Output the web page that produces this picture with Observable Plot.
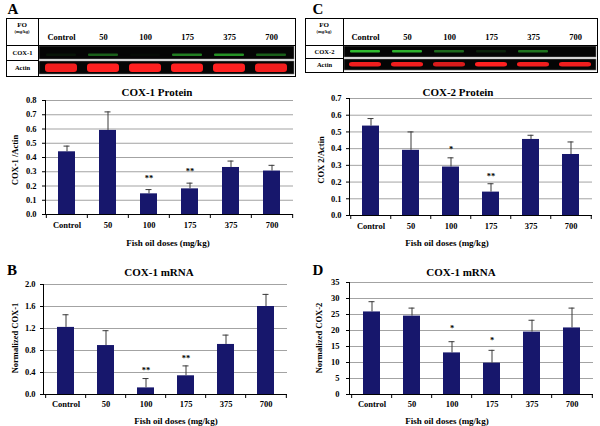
<!DOCTYPE html>
<html><head><meta charset="utf-8">
<script src="https://cdn.jsdelivr.net/npm/d3@7"></script>
<script src="https://cdn.jsdelivr.net/npm/@observablehq/plot@0.6"></script>
<style>
body{margin:0;background:#fff;}
#fig{position:relative;width:600px;height:426px;overflow:hidden;font-family:"Liberation Serif","Times New Roman",serif;font-weight:bold;color:#000;}
#fig svg{position:absolute;overflow:visible;}
.lbl{position:absolute;transform:translate(-50%,-50%);white-space:nowrap;line-height:1;}
.rot{position:absolute;transform:translate(-50%,-50%) rotate(-90deg);white-space:nowrap;line-height:1;}
.box{position:absolute;border:1px solid #000;box-sizing:border-box;}
.hl{position:absolute;height:1px;background:#000;}
.vl{position:absolute;width:1px;background:#000;}
</style></head><body><div id="fig"></div>
<script>
const doses = ["Control","50","100","175","375","700"];

// Panel A: COX-1 protein (COX-1/Actin)
const cox1Protein   = [0.44, 0.59, 0.145, 0.18, 0.33, 0.305];
const cox1ProteinSE = [0.04, 0.13, 0.03, 0.04, 0.045, 0.04];
const cox1ProteinStars = [{dose:"100", y:0.27, t:"**"}, {dose:"175", y:0.315, t:"**"}];
const ticksA = [0,0.1,0.2,0.3,0.4,0.5,0.6,0.7,0.8];

// Panel B: COX-1 mRNA (normalized)
const cox1mRNA   = [1.22, 0.89, 0.12, 0.34, 0.91, 1.60];
const cox1mRNASE = [0.23, 0.27, 0.17, 0.18, 0.17, 0.22];
const cox1mRNAStars = [{dose:"100", y:0.47, t:"**"}, {dose:"175", y:0.69, t:"**"}];
const ticksB = [0,0.4,0.8,1.2,1.6,2.0];

// Panel C: COX-2 protein (COX 2/Actin)
const cox2Protein   = [0.535, 0.39, 0.29, 0.14, 0.455, 0.365];
const cox2ProteinSE = [0.045, 0.11, 0.055, 0.05, 0.025, 0.075];
const cox2ProteinStars = [{dose:"100", y:0.41, t:"*"}, {dose:"175", y:0.245, t:"**"}];
const ticksC = [0,0.1,0.2,0.3,0.4,0.5,0.6,0.7];

// Panel D: normalized COX-2 mRNA
const cox2mRNA   = [25.8, 24.5, 13.0, 9.8, 19.5, 20.8];
const cox2mRNASE = [3.2, 2.5, 3.5, 4.0, 3.7, 6.2];
const cox2mRNAStars = [{dose:"100", y:21.2, t:"*"}, {dose:"175", y:17.5, t:"*"}];
const ticksD = [0,5,10,15,20,25,30,35];

// Western blot band intensities (0-1)
const blotCox1   = [0.08, 0.45, 0.03, 0.6, 0.7, 0.45];
const blotActinA = [0.95, 1, 1, 1, 1, 0.95];
const blotCox2   = [0.9, 0.85, 0.5, 0.15, 0.55, 0.0];
const blotActinC = [0.95, 0.95, 0.85, 1, 0.95, 0.95];

const fig = document.getElementById("fig");
const FONT = "Liberation Serif, Times New Roman, serif";

function addText(cls, txt, x, y, size, extra) {
  const d = document.createElement("div");
  d.className = cls; d.textContent = txt;
  d.style.left = x + "px"; d.style.top = y + "px"; d.style.fontSize = size + "px";
  if (extra) Object.assign(d.style, extra);
  fig.appendChild(d); return d;
}
function addDiv(cls, l, t, w, h) {
  const d = document.createElement("div"); d.className = cls;
  d.style.left = l + "px"; d.style.top = t + "px";
  if (w != null) d.style.width = w + "px";
  if (h != null) d.style.height = h + "px";
  fig.appendChild(d); return d;
}

function barChart(o) {
  const rows = doses.map((d, i) => ({dose: d, v: o.values[i], hi: o.values[i] + o.errs[i]}));
  const step = (o.width - o.mL - o.mR) / doses.length;
  const y0 = o.ticks[0];
  const svg = Plot.plot({
    width: o.width, height: o.height,
    marginLeft: o.mL, marginRight: o.mR, marginTop: o.mT, marginBottom: o.mB,
    style: {fontFamily: FONT, fontWeight: "bold", fontSize: "8.5px", background: "transparent", color: "#000"},
    x: {domain: doses, paddingInner: 0.58, paddingOuter: 0.29},
    y: {domain: [y0, o.ticks[o.ticks.length - 1]]},
    marks: [
      Plot.gridY(o.ticks, {stroke: "#a3a3a3", strokeOpacity: 1}),
      Plot.barY(rows, {x: "dose", y: "v", fill: "#17176c"}),
      Plot.ruleX(rows, {x: "dose", y1: "v", y2: "hi", stroke: "#3a3a3a", strokeWidth: 1}),
      Plot.tickY(rows, {x: "dose", y: "hi", stroke: "#3a3a3a", insetLeft: 5.5, insetRight: 5.5}),
      Plot.text(o.stars, {x: "dose", y: "y", text: "t", fontSize: 8.5, dy: 2}),
      Plot.frame({anchor: "left", stroke: "#000"}),
      Plot.ruleY([y0], {stroke: "#000"}),
      Plot.ruleX(doses, {x: d => d, y1: y0, y2: y0, insetBottom: -4, dx: -step / 2, stroke: "#000"}),
      Plot.ruleX(doses.slice(-1), {x: d => d, y1: y0, y2: y0, insetBottom: -4, dx: step / 2, stroke: "#000"}),
      Plot.axisY({ticks: o.ticks, tickFormat: o.fmt, tickSize: 3, tickPadding: o.tickPadY, label: null}),
      Plot.axisX({tickSize: 0, tickPadding: o.tickPadX, label: null})
    ]
  });
  svg.style.left = o.left + "px"; svg.style.top = o.top + "px";
  fig.appendChild(svg);
}

function blot(o) {
  const rowsY = [o.protName, "Actin"];
  const prot = doses.map((d, i) => ({dose: d, v: o.prot[i]}));
  const act = doses.map((d, i) => ({dose: d, v: o.actin[i]}));
  const svg = Plot.plot({
    width: o.width, height: o.height,
    marginLeft: o.labW, marginTop: o.headH, marginRight: 2, marginBottom: 2,
    style: {fontFamily: FONT, fontWeight: "bold", fontSize: "8.5px", background: "transparent", color: "#000"},
    x: {domain: doses, padding: 0},
    y: {domain: rowsY, padding: 0},
    opacity: {domain: [0, 1], range: [0, 1]},
    marks: [
      Plot.cell(rowsY, {y: d => d, fill: "#050505", insetTop: 1, insetBottom: 1, insetLeft: 1, stroke: "#777", strokeWidth: 0.6}),
      Plot.cell(prot, {x: "dose", y: () => o.protName, fill: "#35d035", fillOpacity: "v", insetLeft: 6, insetRight: 6, insetTop: o.protTop, insetBottom: o.protBottom, rx: 1, ariaLabel: "bands"}),
      Plot.cell(act, {x: "dose", y: () => "Actin", fill: "#ff2020", fillOpacity: "v", insetLeft: 5, insetRight: 5, insetTop: o.actTop, insetBottom: o.actBottom, rx: 3, ariaLabel: "bands"}),
      Plot.axisX({anchor: "top", tickSize: 0, tickPadding: 6, label: null, fontSize: 8.5}),
      Plot.axisY({anchor: "left", tickSize: 0, tickPadding: o.labW / 2, textAnchor: "middle", label: null, fontSize: 6.5})
    ]
  });
  const defs = d3.select(svg).insert("defs", ":first-child");
  defs.append("filter").attr("id", o.id).attr("x", "-20%").attr("y", "-150%").attr("width", "140%").attr("height", "400%")
    .append("feGaussianBlur").attr("stdDeviation", 0.7);
  d3.select(svg).selectAll('g[aria-label="bands"]').attr("filter", `url(#${o.id})`);
  svg.style.left = o.left + "px"; svg.style.top = o.top + "px";
  fig.appendChild(svg);
  // table lines
  addDiv("box", o.left, o.top, o.width, o.height);
  addDiv("vl", o.left + o.labW, o.top, null, o.height);
  addDiv("hl", o.left, o.top + o.headH, o.width, null);
  addDiv("hl", o.left, o.top + o.headH + (o.height - o.headH - 2) / 2, o.labW, null);
  addText("lbl", "FO", o.left + o.labW / 2, o.top + 7, 7);
  addText("lbl", "(mg/kg)", o.left + o.labW / 2, o.top + 14, 4.5);
}

// Blots
blot({id: "blurA", left: 6, top: 18, width: 290, height: 59, labW: 32, headH: 27, protName: "COX-1",
      prot: blotCox1, actin: blotActinA, protTop: 8.5, protBottom: 4, actTop: 3.5, actBottom: 3});
blot({id: "blurC", left: 305, top: 18, width: 293, height: 55, labW: 38, headH: 27, protName: "COX-2",
      prot: blotCox2, actin: blotActinC, protTop: 5, protBottom: 5.5, actTop: 4, actBottom: 4.5});

// Bar charts
barChart({left: 0, top: 85, width: 300, height: 165, mL: 45, mR: 7, mT: 15, mB: 36,
  values: cox1Protein, errs: cox1ProteinSE, stars: cox1ProteinStars, ticks: ticksA, fmt: d3.format(".1f"), tickPadY: 6, tickPadX: 7});
barChart({left: 0, top: 270, width: 300, height: 156, mL: 43, mR: 13, mT: 14, mB: 32,
  values: cox1mRNA, errs: cox1mRNASE, stars: cox1mRNAStars, ticks: ticksB, fmt: d3.format(".1f"), tickPadY: 5, tickPadX: 6});
barChart({left: 300, top: 85, width: 300, height: 165, mL: 49, mR: 8, mT: 13, mB: 35,
  values: cox2Protein, errs: cox2ProteinSE, stars: cox2ProteinStars, ticks: ticksC, fmt: d3.format(".1f"), tickPadY: 5, tickPadX: 7});
barChart({left: 300, top: 270, width: 300, height: 156, mL: 49, mR: 7, mT: 12, mB: 32,
  values: cox2mRNA, errs: cox2mRNASE, stars: cox2mRNAStars, ticks: ticksD, fmt: d3.format("d"), tickPadY: 7, tickPadX: 6});

// Panel letters
addText("lbl", "A", 13, 9, 15);
addText("lbl", "C", 318, 9, 15);
addText("lbl", "B", 12, 270, 15);
addText("lbl", "D", 318, 270, 15);

// Chart titles
addText("lbl", "COX-1 Protein", 157, 92, 11);
addText("lbl", "COX-2 Protein", 458, 92, 11);
addText("lbl", "COX-1 mRNA", 159, 272, 11);
addText("lbl", "COX-1 mRNA", 461, 272, 11);

// Axis titles
addText("lbl", "Fish oil doses (mg/kg)", 168, 243, 9);
addText("lbl", "Fish oil doses (mg/kg)", 176, 421, 9);
addText("lbl", "Fish oil doses (mg/kg)", 447, 243, 9);
addText("lbl", "Fish oil doses (mg/kg)", 447, 421, 9);
addText("rot", "COX-1 /Actin", 15, 160, 8.5);
addText("rot", "Normalized COX-1", 15, 338, 8.5);
addText("rot", "COX 2/Actin", 321, 160, 8.5);
addText("rot", "Normalized COX-2", 319, 338, 8.5);
</script></body></html>
